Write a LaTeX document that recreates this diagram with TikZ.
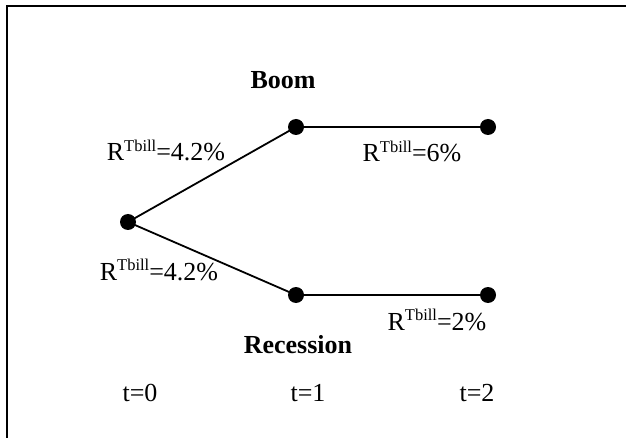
\documentclass[tikz,border=0pt]{standalone}
\usepackage{fontspec}
\setmainfont{Liberation Serif}
\newcommand{\Rt}{R\raisebox{0.36em}{\fontsize{16.5}{17}\selectfont Tbill}}
\begin{document}
\begin{tikzpicture}[x=1pt,y=-1pt,
  dot/.style={circle,fill=black,inner sep=0pt,minimum size=16pt},
  edge/.style={line width=1.8pt},
  lbl/.style={anchor=base,inner sep=0pt,font=\fontsize{26}{30}\selectfont},
  blbl/.style={anchor=base,inner sep=0pt,font=\fontsize{26}{30}\selectfont\bfseries}]
\useasboundingbox (0,0) rectangle (626,438);
\draw[line width=2pt] (7,440) -- (7,6) -- (628,6);
\node[dot] (r) at (128,222) {};
\node[dot] (b1) at (296,127) {};
\node[dot] (b2) at (488,127) {};
\node[dot] (s1) at (296,295) {};
\node[dot] (s2) at (488,295) {};
\draw[edge] (r.center) -- (b1.center);
\draw[edge] (r.center) -- (s1.center);
\draw[edge] (b1.center) -- (b2.center);
\draw[edge] (s1.center) -- (s2.center);
\node[blbl] (boom) at (283,89) {Boom};
\node[blbl] (rec) at (298,353) {Recession};
\node[lbl] (l1) at (166,161) {\Rt=4.2\%};
\node[lbl] (l2) at (159,280) {\Rt=4.2\%};
\node[lbl] (l3) at (412,162) {\Rt=6\%};
\node[lbl] (l4) at (437,330) {\Rt=2\%};
\node[lbl] (t0) at (140,401) {t=0};
\node[lbl] (t1) at (308,401) {t=1};
\node[lbl] (t2) at (477,401) {t=2};
\end{tikzpicture}
\end{document}
